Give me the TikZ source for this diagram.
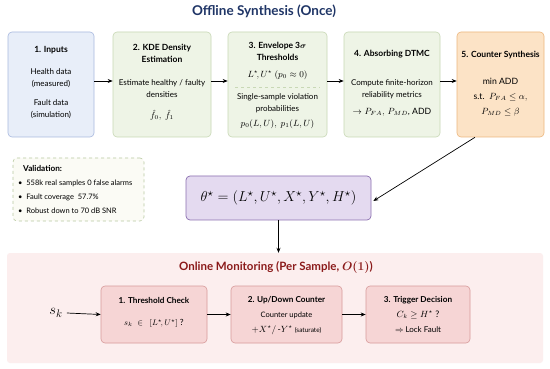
\documentclass[tikz,border=0pt]{standalone}
\usepackage{fontspec}
\setmainfont{Lato}
\usepackage{amsmath,amssymb}
\usetikzlibrary{arrows.meta}
\definecolor{bluefill}{HTML}{E8EEF9}\definecolor{blueline}{HTML}{A8B9DF}
\definecolor{greenfill}{HTML}{EEF4E6}\definecolor{greenline}{HTML}{C8D8B5}
\definecolor{orangefill}{HTML}{FCE3C6}\definecolor{orangeline}{HTML}{EDB77E}
\definecolor{purplefill}{HTML}{E4DAF0}\definecolor{purpleline}{HTML}{8B6FB0}
\definecolor{regionfill}{HTML}{FCEEEE}
\definecolor{pinkfill}{HTML}{F6D5D5}\definecolor{pinkline}{HTML}{D79A9A}
\definecolor{navy}{HTML}{1F3566}\definecolor{darkred}{HTML}{8B1A1A}
\definecolor{valfill}{HTML}{FBFBF5}\definecolor{valline}{HTML}{B8C9A0}
\tikzset{
  stagebox/.style={draw, rounded corners=4pt, line width=0.6pt, minimum height=105pt, inner sep=0pt},
  pinkbox/.style={draw=pinkline, fill=pinkfill, rounded corners=4pt, line width=0.6pt, minimum height=57pt, inner sep=0pt},
  ttl/.style={font=\fontsize{8.5}{12}\selectfont\bfseries, align=center, inner sep=0pt},
  txt/.style={font=\fontsize{8}{12}\selectfont, align=center, inner sep=0pt},
  mth/.style={font=\fontsize{8.7}{12}\selectfont, align=center, inner sep=0pt},
  vtxt/.style={font=\fontsize{7.5}{9}\selectfont, anchor=west, inner sep=0pt},
  arr/.style={-{Stealth[length=5pt,width=4pt]}, line width=0.7pt, black},
}
\begin{document}
\begin{tikzpicture}[x=1pt,y=-1pt]
\useasboundingbox (0,0) rectangle (550,369);
\fill[white] (0,0) rectangle (550,369);
\node[font=\fontsize{13.5}{15}\selectfont\bfseries, text=navy, inner sep=0pt] (title) at (264,11) {Offline Synthesis (Once)};
% top boxes
\node[stagebox, draw=blueline, fill=bluefill, minimum width=86pt] (b1) at (51,84.5) {};
\node[stagebox, draw=greenline, fill=greenfill, minimum width=98pt] (b2) at (162,84.5) {};
\node[stagebox, draw=greenline, fill=greenfill, minimum width=99pt] (b3) at (277.5,84.5) {};
\node[stagebox, draw=greenline, fill=greenfill, minimum width=96pt] (b4) at (392,84.5) {};
\node[stagebox, draw=orangeline, fill=orangefill, minimum width=87pt] (b5) at (500.5,84.5) {};
% box1 texts
\node[ttl] (t1) at (51,50) {1. Inputs};
\node[txt] (t1a) at (51,78) {Health data\\(measured)};
\node[txt] (t1b) at (51,109) {Fault data\\(simulation)};
% box2
\node[ttl] (t2) at (162,53) {2. KDE Density\\Estimation};
\node[txt] (t2a) at (162,89) {Estimate healthy / faulty\\densities};
\node[mth] (t2b) at (162,115) {$\hat{f}_0,\ \hat{f}_1$};
% box3
\node[ttl] (t3) at (277.5,51) {3. Envelope 3$\boldsymbol{\sigma}$\\Thresholds};
\node[mth] (t3a) at (277.5,75) {$L^\star\!, U^\star\ (p_0\approx 0)$};
\draw[dashed, greenline, line width=0.6pt] (235,87) -- (320,87);
\node[txt] (t3b) at (277.5,103) {Single-sample violation\\probabilities};
\node[mth] (t3c) at (277.5,124) {$p_0(L,U),\ p_1(L,U)$};
% box4
\node[ttl] (t4) at (392,54) {4. Absorbing DTMC};
\node[txt] (t4a) at (392,89) {Compute finite-horizon\\reliability metrics};
\node[mth] (t4b) at (392,112) {$\to P_{FA},\, P_{MD}$, ADD};
% box5
\node[ttl] (t5) at (500.5,55) {5. Counter Synthesis};
\node[mth] (t5a) at (500.5,81) {min ADD};
\node[mth] (t5b) at (500.5,97) {s.t.\ \ $P_{FA}\le\alpha,$};
\node[mth] (t5c) at (500.5,112) {$P_{MD}\le\beta$};
% top arrows
\draw[arr] ([yshift=3.5pt]b1.east) -- ([yshift=3.5pt]b2.west);
\draw[arr] ([yshift=3.5pt]b2.east) -- ([yshift=3.5pt]b3.west);
\draw[arr] ([yshift=3.5pt]b3.east) -- ([yshift=3.5pt]b4.west);
\draw[arr] ([yshift=3.5pt]b4.east) -- ([yshift=3.5pt]b5.west);
% validation
\node[draw=valline, fill=valfill, dashed, rounded corners=4pt, line width=0.6pt, minimum width=131pt, minimum height=63pt, inner sep=0pt] (val) at (78.5,189.5) {};
\node[vtxt, font=\fontsize{8.2}{9}\selectfont\bfseries] (vt) at (23,168) {Validation:};
\node[vtxt] (v1) at (18,183) {\textbullet\ \ 558k real samples 0 false alarms};
\node[vtxt] (v2) at (18,197) {\textbullet\ \ Fault coverage\ \ 57.7\%};
\node[vtxt] (v3) at (18,211) {\textbullet\ \ Robust down to 70 dB SNR};
% theta
\node[draw=purpleline, fill=purplefill, rounded corners=4pt, line width=0.7pt, minimum width=185pt, minimum height=44pt, inner sep=0pt, font=\fontsize{15.5}{17}\selectfont] (theta) at (278.5,198) {$\theta^\star = (L^\star, U^\star, X^\star, Y^\star, H^\star)$};
\draw[arr] ([xshift=-25.5pt]b5.south) -- ([yshift=-3pt,xshift=2pt]theta.east);
% online region
\node[fill=regionfill, rounded corners=3pt, minimum width=536pt, minimum height=110pt, inner sep=0pt] (online) at (275,308) {};
\draw[arr] (theta.south) -- (theta.south |- online.north);
\node[font=\fontsize{11.5}{13}\selectfont\bfseries, text=darkred, inner sep=0pt] (ot) at (276,267) {Online Monitoring (Per Sample, $\boldsymbol{O(1)}$)};
% bottom boxes
\node[pinkbox, minimum width=106pt] (c1) at (154,314.5) {};
\node[pinkbox, minimum width=111pt] (c2) at (286.5,314.5) {};
\node[pinkbox, minimum width=104pt] (c3) at (418,314.5) {};
\node[font=\fontsize{15}{17}\selectfont, inner sep=0pt] (sk) at (56,313) {$s_k$};
\draw[arr] ([xshift=4pt]sk.east) -- (c1.west);
\draw[arr] (c1.east) -- (c2.west);
\draw[arr] (c2.east) -- (c3.west);
\node[ttl, font=\fontsize{8.2}{9}\selectfont\bfseries] (c1t) at (154,300) {1. Threshold Check};
\node[txt, font=\fontsize{8.5}{9}\selectfont] (c1a) at (154,323) {$s_k\ \in\ \ [L^\star\!,U^\star]$ ?};
\node[ttl, font=\fontsize{8.2}{9}\selectfont\bfseries] (c2t) at (286.5,300) {2. Up/Down Counter};
\node[txt, font=\fontsize{7.5}{9}\selectfont] (c2a) at (286.5,315) {Counter update};
\node[txt, font=\fontsize{8.7}{9}\selectfont] (c2b) at (286.5,330) {$+X^\star/$\,-$Y^\star$ {\fontsize{6.5}{7}\selectfont(saturate)}};
\node[ttl, font=\fontsize{8.2}{9}\selectfont\bfseries] (c3t) at (418,300) {3. Trigger Decision};
\node[txt, font=\fontsize{9}{9}\selectfont] (c3a) at (418,315) {$C_k\ge H^\star$ ?};
\node[txt, font=\fontsize{8}{9}\selectfont] (c3b) at (418,330) {$\Rightarrow$ Lock Fault};
\end{tikzpicture}
\end{document}
